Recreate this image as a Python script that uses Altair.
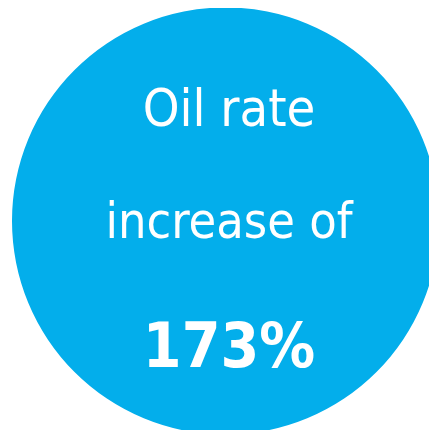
import altair as alt
import pandas as pd

labels = ["Oil rate", "increase of", "173%"]
headline_value = [173]

circle_df = pd.DataFrame({"value": headline_value})

circle = alt.Chart(circle_df).mark_circle(
    color="#03AEEB", opacity=1, strokeWidth=0
).encode(
    x=alt.value(217.5),
    y=alt.value(213),
    size=alt.value(427 * 427),
)

font = "DejaVu Sans Condensed"

def line(txt, px, py, size, weight):
    return alt.Chart(pd.DataFrame({"t": [txt]})).mark_text(
        font=font, fontSize=size, fontWeight=weight, color="white",
        align="center", baseline="alphabetic"
    ).encode(text="t:N", x=alt.value(px), y=alt.value(py))

chart = alt.layer(
    circle,
    line(labels[0], 221, 118, 52, "normal"),
    line(labels[1], 221, 230, 50, "normal"),
    line(labels[2], 221, 359, 62, "bold"),
).properties(
    width=421, height=422, padding=0,
    autosize=alt.AutoSizeParams(type="none"),
).configure_view(strokeWidth=0)

chart.save("out.html", embed_options={"renderer": "svg", "actions": False})
